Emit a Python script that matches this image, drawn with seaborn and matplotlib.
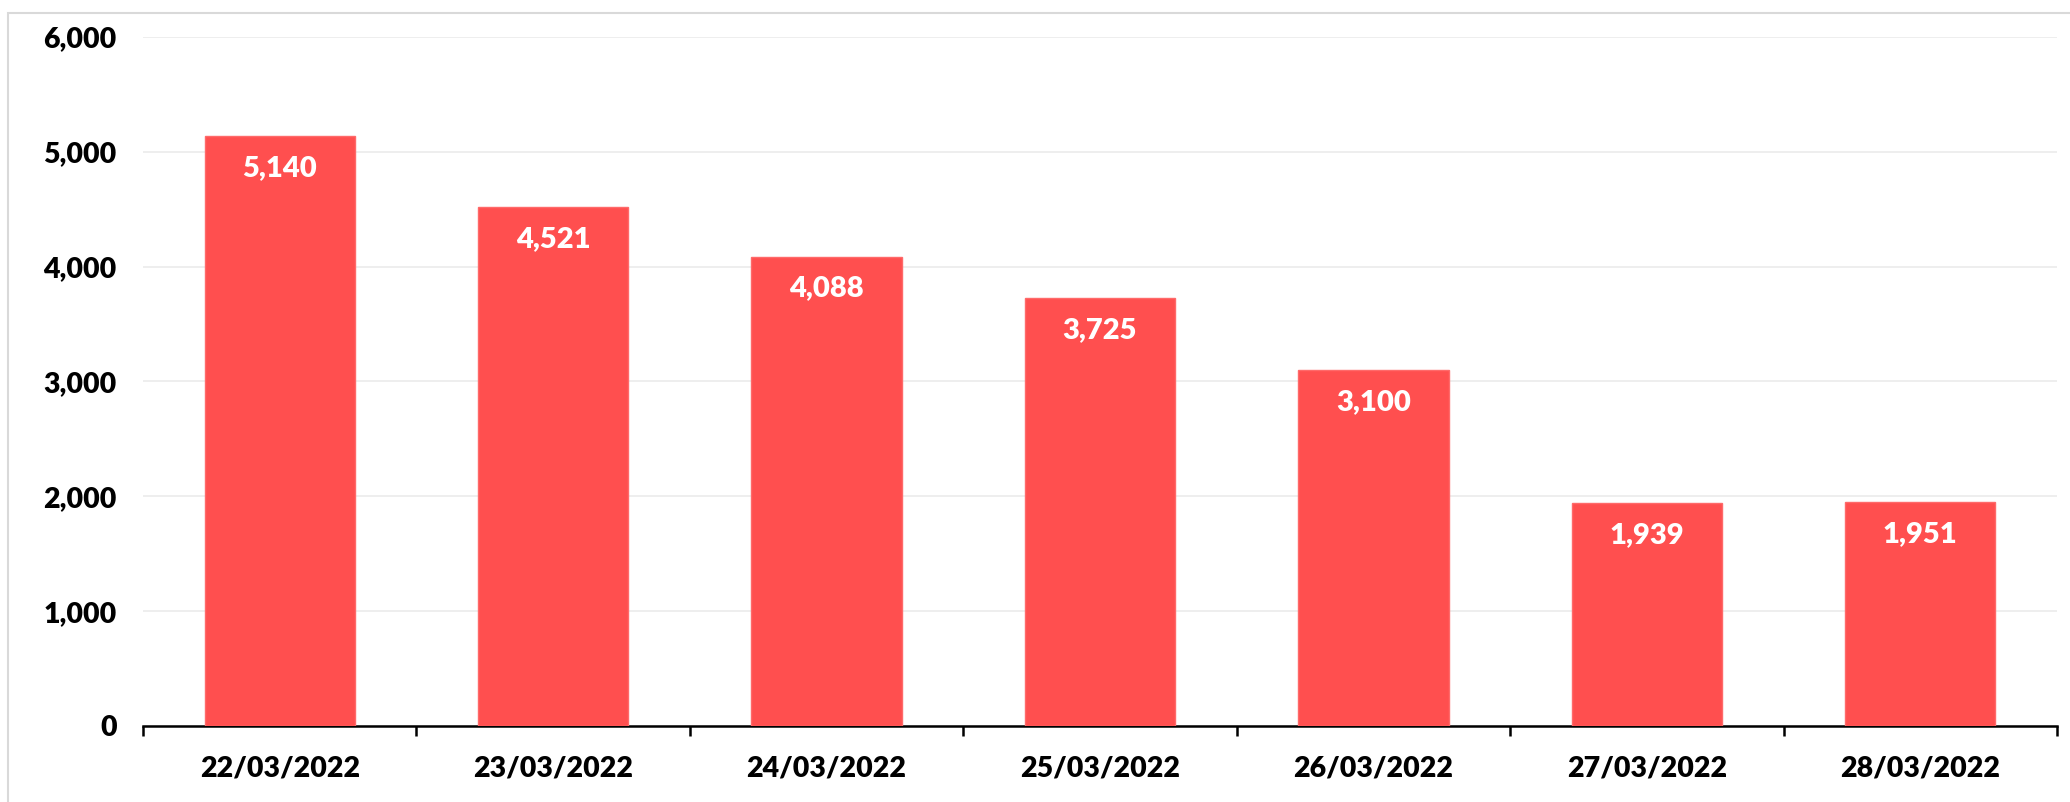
import matplotlib
matplotlib.use("Agg")
import matplotlib.pyplot as plt
import seaborn as sns
import pandas as pd
from matplotlib.patches import Rectangle
from matplotlib.ticker import FuncFormatter, FixedLocator

# data
dates = ["22/03/2022", "23/03/2022", "24/03/2022", "25/03/2022",
         "26/03/2022", "27/03/2022", "28/03/2022"]
counts = [5140, 4521, 4088, 3725, 3100, 1939, 1951]

df = pd.DataFrame({"date": dates, "count": counts})

sns.set_style("white")
plt.rcParams["font.family"] = ["Lato", "DejaVu Sans"]

fig = plt.figure(figsize=(20.7, 8.02), dpi=100)
ax = fig.add_axes([0.0691, 0.0948, 0.9246, 0.8591])

sns.barplot(data=df, x="date", y="count", color="#FF4F4F", width=0.55,
            saturation=1, edgecolor="#FF6A6A", linewidth=1, ax=ax, zorder=3)

# white value labels inside the top of each bar
for p, v in zip(ax.patches, counts):
    ax.annotate(f"{v:,}", (p.get_x() + p.get_width() / 2, p.get_height()),
                xytext=(0, -23), textcoords="offset points",
                ha="center", va="center", color="white",
                fontsize=21, fontweight="heavy", zorder=4)

ax.set_ylim(0, 6000)
ax.set_xlim(-0.5, len(dates) - 0.5)
ax.set_yticks(range(0, 6001, 1000))
ax.yaxis.set_major_formatter(FuncFormatter(lambda y, _: f"{int(y):,}"))
ax.yaxis.grid(True, color="#EBEBEB", linewidth=1.2, zorder=0)
ax.set_axisbelow(True)

# ticks at category boundaries, labels at centres
ax.xaxis.set_major_locator(FixedLocator([i - 0.5 for i in range(len(dates) + 1)]))
ax.xaxis.set_minor_locator(FixedLocator(range(len(dates))))
ax.set_xticklabels([], minor=False)
ax.set_xticklabels(dates, minor=True)
ax.tick_params(axis="x", which="major", bottom=True, direction="out",
               length=7, width=1.8, color="black")
ax.tick_params(axis="x", which="minor", bottom=True, length=0, pad=21, labelsize=20.5)
ax.tick_params(axis="y", length=0, pad=19, labelsize=20.5)
for lbl in ax.get_xticklabels(minor=True) + ax.get_yticklabels():
    lbl.set_fontweight("heavy")
    lbl.set_color("black")

ax.set_xlabel("")
ax.set_ylabel("")
sns.despine(ax=ax, left=True)
ax.spines["bottom"].set_color("black")
ax.spines["bottom"].set_linewidth(1.8)

# light chart-area border (cropped on right and bottom)
fig.patches.append(Rectangle((8 / 2070, -0.05), 1.1, 1 - 13 / 802 + 0.05,
                             transform=fig.transFigure, fill=False,
                             edgecolor="#D9D9D9", linewidth=1.5))

fig.savefig("out.png", dpi=100)
